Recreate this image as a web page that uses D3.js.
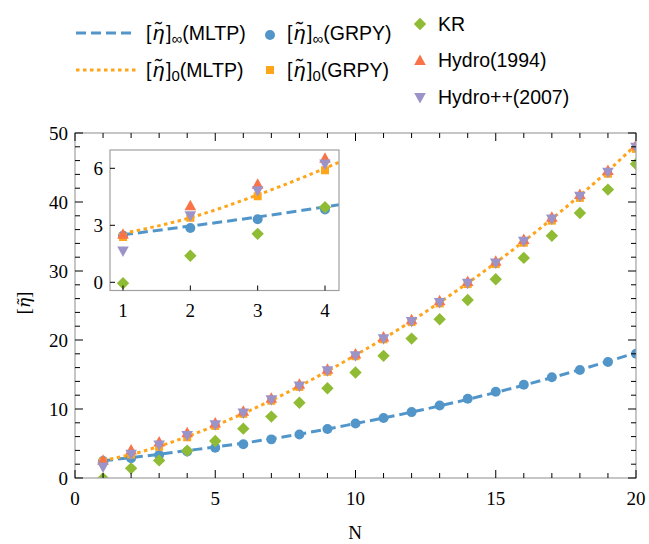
<!DOCTYPE html>
<html><head><meta charset="utf-8">
<script src="https://cdn.jsdelivr.net/npm/d3@7"></script>
<style>body{margin:0;background:#fff}svg{display:block}</style>
</head><body>
<script>
// ---- data ----
const N = [1,2,3,4,5,6,7,8,9,10,11,12,13,14,15,16,17,18,19,20];
const mltpInf = [2.5,2.96,3.44,3.97,4.5,5.05,5.68,6.35,7.1,7.9,8.7,9.55,10.45,11.4,12.4,13.45,14.55,15.7,16.9,18.15];
const mltp0   = [2.57,3.4,4.6,6.0,7.6,9.35,11.25,13.3,15.5,17.8,20.2,22.75,25.45,28.25,31.2,34.3,37.55,40.95,44.5,48.3];
const grpyInf = [2.45,2.86,3.32,3.83,4.39,4.9,5.6,6.3,7.1,7.9,8.7,9.55,10.5,11.5,12.5,13.5,14.6,15.65,16.8,18.0];
const grpy0   = [2.39,3.4,4.53,5.9,7.55,9.3,11.2,13.2,15.4,17.65,20.1,22.6,25.3,28.1,31.0,34.1,37.3,40.6,44.1,47.7];
const kr      = [-0.05,1.4,2.55,3.95,5.36,7.15,8.9,10.9,13.0,15.3,17.7,20.2,23.0,25.8,28.8,31.9,35.1,38.4,41.8,45.5];
const hydro94 = [2.5,4.0,5.14,6.5,7.9,9.6,11.5,13.5,15.7,17.9,20.35,22.85,25.6,28.4,31.35,34.5,37.7,41.0,44.5,48.2];
const hydro07 = [1.68,3.53,4.84,6.25,7.8,9.5,11.4,13.4,15.6,17.8,20.25,22.75,25.5,28.3,31.25,34.4,37.6,40.9,44.4,48.0];
const xTicksMain = [0,5,10,15,20];
const yTicksMain = [0,10,20,30,40,50];
const xTicksInset = [1,2,3,4];
const yTicksInset = [0,3,6];

const C = {blue:"#5296C9", orange:"#FFA51A", green:"#8FBC34", red:"#FA7348", purple:"#9C93C8"};
const W = 649, H = 544;
const svg = d3.select("body").append("svg").attr("width",W).attr("height",H);
svg.append("rect").attr("width",W).attr("height",H).attr("fill","#fff");
const serif = "'Liberation Serif','Times New Roman',serif";
const sans = "'Liberation Sans',Arial,sans-serif";

const series = [
  {vals:grpyInf, shape:"circle", color:C.blue},
  {vals:grpy0, shape:"square", color:C.orange},
  {vals:kr, shape:"diamond", color:C.green},
  {vals:hydro94, shape:"tri", color:C.red},
  {vals:hydro07, shape:"itri", color:C.purple}
];
function markerPath(shape){
  switch(shape){
    case "circle": return d3.symbol(d3.symbolCircle, 78)();
    case "square": return "M-4,-4H4V4H-4Z";
    case "diamond": return "M0,-6.2L6.2,0L0,6.2L-6.2,0Z";
    case "tri": return "M0,-6.5L5.8,4L-5.8,4Z";
    case "itri": return "M0,6.5L5.8,-4L-5.8,-4Z";
  }
}

function drawPanel(g, x, y, clipId){
  const [x0,x1] = x.range(), [y0,y1] = y.range();
  svg.append("clipPath").attr("id",clipId).append("rect")
    .attr("x",x0).attr("y",y1).attr("width",x1-x0).attr("height",y0-y1);
  const pg = g.append("g").attr("clip-path",`url(#${clipId})`);
  const line = vals => d3.line().x((d,i)=>x(N[i])).y(d=>y(d)).curve(d3.curveMonotoneX)(vals);
  pg.append("path").attr("d",line(mltpInf)).attr("fill","none").attr("stroke",C.blue)
    .attr("stroke-width",3).attr("stroke-dasharray","10,5");
  pg.append("path").attr("d",line(mltp0)).attr("fill","none").attr("stroke",C.orange)
    .attr("stroke-width",3).attr("stroke-dasharray","3.5,3.5");
  series.forEach(s=>{
    pg.selectAll(null).data(s.vals).enter().append("path")
      .attr("d",markerPath(s.shape))
      .attr("transform",(d,i)=>`translate(${x(N[i])},${y(d)})`)
      .attr("fill",s.color);
  });
}

// ---- main plot ----
const x = d3.scaleLinear().domain([0,20]).range([75,636]);
const y = d3.scaleLinear().domain([0,50]).range([478,133]);
const main = svg.append("g");
drawPanel(main, x, y, "clipMain");
main.append("rect").attr("x",75).attr("y",133).attr("width",561).attr("height",345)
  .attr("fill","none").attr("stroke","#a0a0a0").attr("stroke-width",1.2);
const tk = main.append("g").attr("stroke","#000").attr("stroke-width",1);
d3.range(0,21,1).forEach(v=>{
  const maj = v%5===0, L = maj?8:5;
  tk.append("line").attr("x1",x(v)).attr("x2",x(v)).attr("y1",478).attr("y2",478-L);
  tk.append("line").attr("x1",x(v)).attr("x2",x(v)).attr("y1",133).attr("y2",133+L);
});
d3.range(0,51,2).forEach(v=>{
  const maj = v%10===0, L = maj?8:5;
  tk.append("line").attr("y1",y(v)).attr("y2",y(v)).attr("x1",75).attr("x2",75+L);
  tk.append("line").attr("y1",y(v)).attr("y2",y(v)).attr("x1",636).attr("x2",636-L);
});
main.selectAll(".xl").data(xTicksMain).enter().append("text")
  .attr("x",d=>x(d)).attr("y",505).attr("text-anchor","middle")
  .attr("font-family",serif).attr("font-size",19).text(d=>d);
main.selectAll(".yl").data(yTicksMain).enter().append("text")
  .attr("x",68).attr("y",d=>y(d)+6.5).attr("text-anchor","end")
  .attr("font-family",serif).attr("font-size",19).text(d=>d);
main.append("text").attr("x",355).attr("y",539).attr("text-anchor","middle")
  .attr("font-family",serif).attr("font-size",19).text("N");
const yl = main.append("text").attr("transform","translate(30,303) rotate(-90)")
  .attr("text-anchor","middle").attr("font-family",serif).attr("font-size",19);
yl.append("tspan").text("[");
yl.append("tspan").attr("font-family","'DejaVu Serif',serif").attr("font-style","italic").attr("font-size",17).text("η\u0303");
yl.append("tspan").text("]");

// ---- inset ----
const xi = d3.scaleLinear().domain([1,4]).range([123,325]);
const yi = d3.scaleLinear().domain([0,6]).range([282.3,168.3]);
const ix0=110, ix1=339, iy0=150, iy1=290.5;
const inset = svg.append("g");
inset.append("rect").attr("x",ix0).attr("y",iy0).attr("width",ix1-ix0).attr("height",iy1-iy0).attr("fill","#fff");
const xiC = xi.copy().domain([xi.invert(ix0), xi.invert(ix1)]).range([ix0,ix1]);
const yiC = yi.copy().domain([yi.invert(iy1), yi.invert(iy0)]).range([iy1,iy0]);
drawPanel(inset, xiC, yiC, "clipInset");
inset.append("rect").attr("x",ix0).attr("y",iy0).attr("width",ix1-ix0).attr("height",iy1-iy0)
  .attr("fill","none").attr("stroke","#a0a0a0").attr("stroke-width",1.2);
const tki = inset.append("g").attr("stroke","#000");
xTicksInset.forEach(v=>tki.append("line").attr("x1",xi(v)).attr("x2",xi(v)).attr("y1",iy1).attr("y2",iy1-5));
yTicksInset.forEach(v=>tki.append("line").attr("y1",yi(v)).attr("y2",yi(v)).attr("x1",ix0).attr("x2",ix0+5));
inset.selectAll(".xil").data(xTicksInset).enter().append("text")
  .attr("x",d=>xi(d)).attr("y",317).attr("text-anchor","middle")
  .attr("font-family",serif).attr("font-size",19).text(d=>d);
inset.selectAll(".yil").data(yTicksInset).enter().append("text")
  .attr("x",103).attr("y",d=>yi(d)+6.5).attr("text-anchor","end")
  .attr("font-family",serif).attr("font-size",19).text(d=>d);

// ---- legend ----
const lg = svg.append("g").attr("font-family",sans).attr("font-size",19.5);
function etaLabel(xp, yp, sub, rest){
  const t = lg.append("text").attr("x",xp).attr("y",yp);
  t.append("tspan").text("[");
  t.append("tspan").attr("font-style","italic").attr("font-size",21).attr("dx",1.5).text("η\u0303");
  t.append("tspan").attr("dx",1.5).text("]");
  t.append("tspan").attr("font-size",15).attr("dy",4).text(sub);
  t.append("tspan").attr("dy",-4).text(rest);
}
lg.append("line").attr("x1",76).attr("x2",136).attr("y1",33).attr("y2",33)
  .attr("stroke",C.blue).attr("stroke-width",3).attr("stroke-dasharray","10,5");
lg.append("line").attr("x1",76).attr("x2",136).attr("y1",70).attr("y2",70)
  .attr("stroke",C.orange).attr("stroke-width",3).attr("stroke-dasharray","3.5,3.5");
etaLabel(146, 40, "∞", "(MLTP)");
etaLabel(146, 77, "0", "(MLTP)");
lg.append("path").attr("d",markerPath("circle")).attr("transform","translate(270,35)").attr("fill",C.blue);
lg.append("path").attr("d",markerPath("square")).attr("transform","translate(270,70)").attr("fill",C.orange);
etaLabel(287, 40, "∞", "(GRPY)");
etaLabel(287, 77, "0", "(GRPY)");
lg.append("path").attr("d",markerPath("diamond")).attr("transform","translate(420,24)").attr("fill",C.green);
lg.append("path").attr("d",markerPath("tri")).attr("transform","translate(420,61)").attr("fill",C.red);
lg.append("path").attr("d",markerPath("itri")).attr("transform","translate(420,97)").attr("fill",C.purple);
lg.append("text").attr("x",438).attr("y",31).text("KR");
lg.append("text").attr("x",438).attr("y",67).text("Hydro(1994)");
lg.append("text").attr("x",438).attr("y",104).text("Hydro++(2007)");
</script>
</body></html>
